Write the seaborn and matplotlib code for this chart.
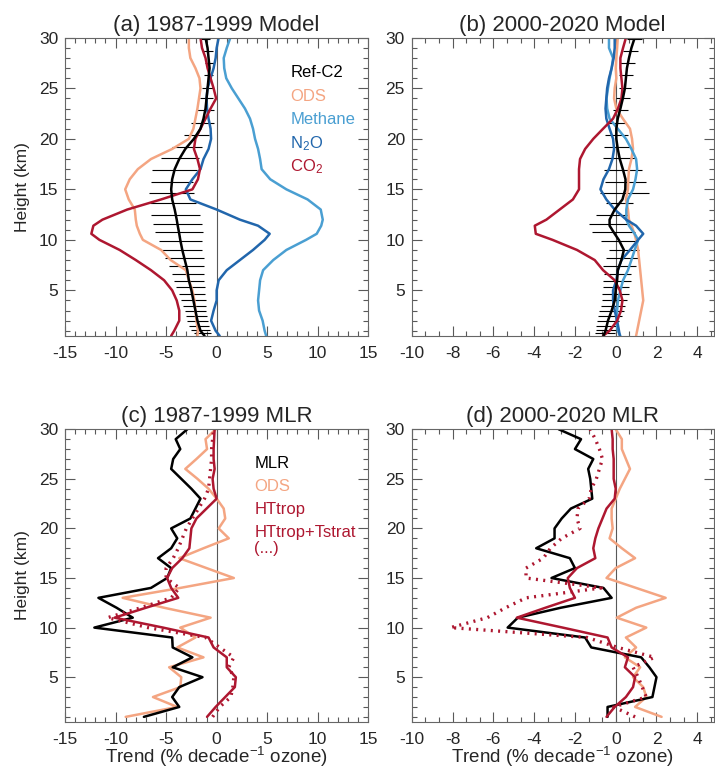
import numpy as np
import matplotlib
matplotlib.use("Agg")
import matplotlib.pyplot as plt
from matplotlib.ticker import MultipleLocator
import seaborn as sns

# ---- model profiles (% per decade), heights in km ----
model_km = [0.5, 1, 2, 3, 4, 5, 6, 7, 8, 9, 10, 10.6, 11.4, 12, 13, 14, 15, 16,
            17, 18, 19, 20, 21, 22, 23, 24, 25, 26, 27, 28, 29, 30]

# (a) 1987-1999
refc2_a = [-1.2, -1.6, -1.9, -2.1, -2.3, -2.5, -2.75, -2.9, -3.15, -3.4, -3.6, -3.7,
           -3.85, -3.95, -4.15, -4.4, -4.5, -4.4, -4.15, -3.7, -3.1, -2.25, -1.6, -1.3,
           -1.1, -1.0, -0.9, -0.8, -0.7, -0.8, -0.9, -1.1]
ods_a = [-1.9, -1.85, -2.0, -2.1, -2.2, -2.4, -2.75, -3.05, -4.55, -5.5, -7.3, -7.6,
         -7.9, -8.0, -8.1, -8.7, -9.05, -8.6, -7.8, -6.5, -4.4, -2.75, -2.3, -2.1,
         -1.9, -1.75, -1.6, -1.7, -2.1, -2.6, -2.75, -2.75]
methane_a = [4.9, 4.75, 4.55, 4.2, 4.1, 4.2, 4.3, 4.6, 5.6, 6.9, 8.85, 9.9, 10.35, 10.5,
             10.3, 9.0, 6.9, 5.3, 4.45, 4.3, 4.1, 3.8, 3.6, 3.3, 2.8, 2.15, 1.5, 0.95,
             0.75, 0.7, 1.0, 1.35]
n2o_a = [0.3, -0.1, -0.55, -0.3, 0.0, 0.0, 0.2, 1.0, 2.3, 3.6, 4.75, 5.25, 4.1, 2.3,
         0.0, -2.6, -3.05, -2.4, -1.6, -1.3, -0.8, -0.55, -0.6, -0.8, -0.95, -1.0, -0.9,
         -0.6, -0.3, -0.1, 0.0, 0.2]
co2_a = [-4.5, -4.2, -3.7, -3.7, -3.95, -4.4, -5.2, -6.5, -8.0, -9.6, -11.6, -12.4,
         -12.2, -11.3, -8.85, -5.5, -2.4, -1.85, -1.65, -1.9, -2.25, -2.1, -1.6, -1.1,
         -0.6, -0.05, -0.3, -0.6, -0.9, -1.1, -1.45, -1.6]

# (b) 2000-2020
refc2_b = [-0.6, -0.5, -0.38, -0.2, -0.05, 0.0, 0.07, 0.1, 0.28, 0.4, 0.15, -0.05,
           -0.3, -0.3, -0.05, 0.33, 0.47, 0.48, 0.35, 0.2, 0.1, 0.03, 0.03, 0.1, 0.23,
           0.35, 0.45, 0.5, 0.55, 0.65, 0.77, 0.93]
ods_b = [1.0, 1.05, 1.15, 1.25, 1.35, 1.3, 1.25, 1.2, 1.15, 1.1, 1.0, 0.92, 0.78, 0.65,
         0.6, 0.5, 0.6, 0.62, 0.65, 0.77, 0.85, 0.8, 0.7, 0.35, 0.03, -0.08, -0.05,
         0.03, 0.0, 0.03, 0.07, 0.1]
methane_b = [0.23, 0.1, 0.03, 0.07, 0.11, 0.23, 0.36, 0.6, 0.77, 0.93, 1.1, 0.93, 0.65,
             0.52, 0.52, 0.6, 0.85, 0.97, 1.05, 1.0, 0.77, 0.5, 0.1, -0.3, -0.42, -0.45,
             -0.38, -0.3, -0.2, -0.13, -0.33, -0.33]
n2o_b = [0.2, 0.16, 0.07, -0.05, -0.13, -0.13, 0.03, 0.11, 0.28, 0.7, 1.1, 1.35, 1.0,
         0.52, -0.05, -0.46, -0.75, -0.6, -0.33, -0.16, -0.08, -0.13, -0.3, -0.46, -0.5,
         -0.46, -0.42, -0.33, -0.2, -0.1, -0.05, -0.05]
co2_b = [-0.62, -0.3, 0.07, 0.26, 0.33, 0.2, -0.05, -0.62, -1.03, -1.9, -3.1, -3.92,
         -3.97, -3.4, -2.75, -2.1, -1.8, -1.8, -1.8, -1.75, -1.5, -1.1, -0.62, -0.13,
         0.11, 0.28, 0.33, 0.28, 0.23, 0.23, 0.36, 0.5]

# Ref-C2 uncertainty on model levels
level_km = [0.8, 1.1, 1.5, 2.0, 2.5, 3.0, 3.5, 4.0, 4.6, 5.3, 5.9, 6.6, 7.4, 8.2, 9.0,
            9.9, 10.8, 11.6, 12.5, 13.6, 14.6, 15.7, 16.9, 18.1, 19.2, 20.4, 21.6, 22.9,
            24.0, 25.0, 26.3, 27.5, 28.7, 29.9]
err_a = [0.85, 0.95, 1.0, 1.0, 1.0, 1.0, 1.15, 1.2, 1.3, 1.45, 1.5, 1.55, 1.7, 1.9, 2.0,
         2.1, 2.4, 2.45, 2.45, 2.3, 2.25, 2.1, 2.2, 1.9, 1.5, 1.2, 1.15, 0.9, 0.6, 0.5,
         0.45, 0.45, 0.5, 0.45]
err_b = [0.5, 0.5, 0.55, 0.55, 0.6, 0.6, 0.6, 0.6, 0.65, 0.65, 0.7, 0.65, 0.8, 0.8, 0.75,
         0.9, 1.05, 1.0, 0.8, 0.65, 1.2, 1.0, 0.95, 0.8, 0.65, 0.57, 0.45, 0.37, 0.33,
         0.3, 0.33, 0.37, 0.37, 0.37]

# ---- MLR profiles, 1-30 km ----
mlr_km = list(range(1, 31))
mlr_c = [-7.2, -3.7, -4.4, -3.7, -1.4, -4.35, -2.4, -4.35, -4.4, -12.1, -8.3, -9.9,
         -11.7, -6.5, -4.9, -4.5, -5.8, -4.5, -3.9, -4.5, -2.6, -2.1, -1.6, -2.5, -3.5,
         -4.5, -4.3, -3.6, -4.05, -2.9]
ods_c = [-9.0, -3.9, -6.3, -3.6, -3.5, -4.7, -1.3, -3.9, -2.1, -3.6, -0.6, -5.2, -9.3,
         -3.6, 1.7, -1.0, -3.7, -1.3, 1.2, 0.2, 0.85, 0.7, 0.0, -0.8, -1.9, -3.1, -2.0,
         -0.95, -1.1, -0.1]
httrop_c = [-0.95, -0.1, 0.85, 1.8, 1.9, 1.0, 1.0, -0.3, -0.8, -5.3, -10.1, -7.0, -3.8,
            -4.5, -4.9, -4.4, -3.4, -2.7, -2.6, -2.5, -2.0, -1.0, 0.0, -0.3, -0.4, -0.2,
            -0.3, -0.3, -0.25, -0.2]
tstrat_c = [-0.4, 0.3, 1.4, 1.6, 1.7, 1.2, 1.7, 0.3, -1.1, -6.8, -10.8, -7.5, -4.5,
            -3.7, -5.0, -5.0, -4.3, -3.8, -3.4, -3.0, -2.4, -1.8, -1.2, -0.8, -0.7, -0.6,
            -0.5, -0.5, -0.4, -0.3]

mlr_d = [-0.4, -0.4, 1.8, 1.9, 2.0, 1.65, 1.25, -1.2, -1.5, -5.3, -4.8, -2.7, -0.2,
         -0.6, -3.15, -2.0, -2.25, -3.9, -3.0, -3.0, -2.65, -2.2, -1.15, -1.2, -1.25,
         -1.35, -1.1, -2.0, -1.7, -2.8]
ods_d = [2.25, 0.95, 1.5, 1.35, 0.85, 1.2, 0.45, 1.0, 0.5, 1.5, 0.05, 1.0, 2.45, 1.0,
         -0.45, 0.0, 0.95, 0.3, -0.3, -0.15, -0.2, -0.2, 0.0, 0.2, 0.45, 0.7, 0.5, 0.3,
         0.3, 0.0]
httrop_d = [-0.45, -0.05, 0.5, 0.85, 0.95, 0.45, 0.6, -0.2, -0.4, -2.6, -4.85, -3.45,
            -2.0, -2.25, -2.35, -1.9, -1.0, -1.1, -1.0, -0.85, -0.65, -0.45, -0.05, 0.0,
            -0.1, -0.1, -0.1, -0.15, -0.15, -0.2]
tstrat_d = [0.95, -0.1, 1.5, 1.3, 1.1, 0.85, 1.9, 0.1, -1.4, -8.1, -6.3, -5.4, -4.4,
            -0.7, -4.4, -4.4, -3.55, -3.2, -2.65, -1.75, -1.9, -1.85, -1.3, -1.2, -0.95,
            -0.8, -0.65, -0.8, -1.0, -1.25]

BLACK = "black"
ODS = "#F4A582"
CH4 = "#4A9FD2"
N2O = "#2166AC"
RED = "#AE1730"

sns.set_style("ticks")
plt.rcParams["font.family"] = ["Liberation Sans", "DejaVu Sans"]
plt.rcParams["mathtext.default"] = "regular"
plt.rcParams["axes.unicode_minus"] = False

fig = plt.figure(figsize=(7.15, 7.72), dpi=100)
ax_a = fig.add_axes([0.091, 0.565, 0.424, 0.386])
ax_b = fig.add_axes([0.576, 0.565, 0.422, 0.386])
ax_c = fig.add_axes([0.091, 0.065, 0.424, 0.379])
ax_d = fig.add_axes([0.576, 0.065, 0.422, 0.379])


def profile(ax, x, y, color, ls="-", lw=1.8):
    sns.lineplot(x=x, y=y, orient="y", sort=True, estimator=None, color=color,
                 lw=lw, linestyle=ls, legend=False, ax=ax)


def style(ax, xlim, major, minor, title):
    ax.set_xlim(xlim)
    ax.set_ylim(0.5, 30)
    ax.xaxis.set_major_locator(MultipleLocator(major))
    ax.xaxis.set_minor_locator(MultipleLocator(minor))
    ax.yaxis.set_major_locator(MultipleLocator(5))
    ax.yaxis.set_minor_locator(MultipleLocator(1))
    ax.tick_params(which="both", direction="in", top=True, right=True,
                   labelsize=12.5, width=0.8, color="0.35")
    ax.tick_params(axis="x", which="major", pad=7)
    ax.tick_params(axis="y", which="major", pad=5)
    ax.tick_params(which="major", length=7)
    ax.tick_params(which="minor", length=3.5)
    ax.axvline(0, color="0.35", lw=0.8, zorder=0)
    ax.set_title(title, fontsize=16, pad=5)
    ax.set_xlabel("")
    ax.set_ylabel("")
    for s in ax.spines.values():
        s.set_linewidth(0.8)
        s.set_color("0.4")


def errorbars(ax, ref, err):
    mid = np.interp(level_km, model_km, ref)
    ax.hlines(level_km, mid - np.array(err), mid + np.array(err),
              color="black", lw=0.8, zorder=1)


# (a)
errorbars(ax_a, refc2_a, err_a)
for vals, col in [(ods_a, ODS), (methane_a, CH4), (n2o_a, N2O), (co2_a, RED),
                  (refc2_a, BLACK)]:
    profile(ax_a, vals, model_km, col)
style(ax_a, (-15, 15), 5, 1, "(a) 1987-1999 Model")

# (b)
errorbars(ax_b, refc2_b, err_b)
for vals, col in [(ods_b, ODS), (methane_b, CH4), (n2o_b, N2O), (co2_b, RED),
                  (refc2_b, BLACK)]:
    profile(ax_b, vals, model_km, col)
style(ax_b, (-10, 4.8), 2, 2 / 3, "(b) 2000-2020 Model")

# (c), (d)
for ax, mlr, ods, ht, ts in [(ax_c, mlr_c, ods_c, httrop_c, tstrat_c),
                             (ax_d, mlr_d, ods_d, httrop_d, tstrat_d)]:
    profile(ax, ods, mlr_km, ODS)
    profile(ax, mlr, mlr_km, BLACK)
    profile(ax, ht, mlr_km, RED)
    profile(ax, ts, mlr_km, RED, ls=(0, (0.6, 1.6)), lw=2.4)
style(ax_c, (-15, 15), 5, 1, "(c) 1987-1999 MLR")
style(ax_d, (-10, 4.8), 2, 2 / 3, "(d) 2000-2020 MLR")

for ax in (ax_a, ax_c):
    ax.set_ylabel("Height (km)", fontsize=12.5, labelpad=6)
for ax in (ax_c, ax_d):
    ax.set_xlabel("Trend (% decade$^{-1}$ ozone)", fontsize=13.5, labelpad=-1)

# legends as coloured text
for i, (label, col) in enumerate([("Ref-C2", BLACK), ("ODS", ODS), ("Methane", CH4),
                                  ("N$_2$O", N2O), ("CO$_2$", RED)]):
    ax_a.text(0.743, 0.883 - i * 0.079, label, color=col, fontsize=12,
              transform=ax_a.transAxes, va="center", ha="left")
for i, (label, col) in enumerate([("MLR", BLACK), ("ODS", ODS), ("HTtrop", RED),
                                  ("HTtrop+Tstrat", RED)]):
    ax_c.text(0.624, 0.884 - i * 0.079, label, color=col, fontsize=12,
              transform=ax_c.transAxes, va="center", ha="left")
ax_c.text(0.624, 0.592, "(...)", color=RED, fontsize=12,
          transform=ax_c.transAxes, va="center", ha="left")

fig.savefig("out.png", dpi=100)
